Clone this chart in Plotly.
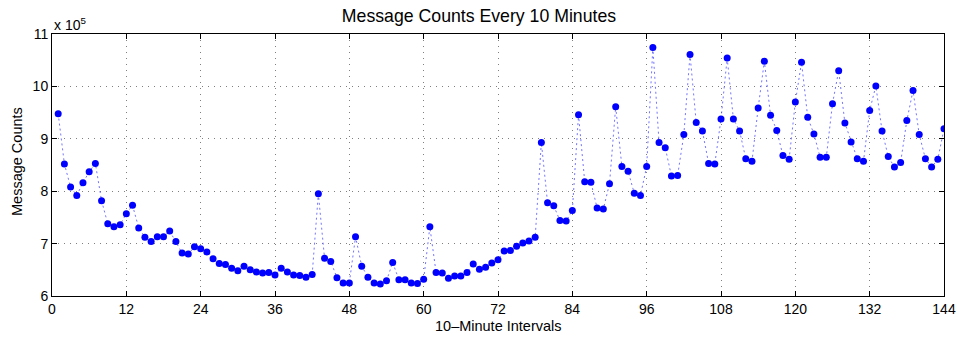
import plotly.graph_objects as go

intervals = list(range(1, 145))
counts_e5 = [
    9.48, 8.52, 8.08, 7.92, 8.16, 8.37, 8.53, 7.82, 7.38, 7.32,
    7.36, 7.57, 7.73, 7.30, 7.12, 7.04, 7.13, 7.13, 7.24, 7.04,
    6.82, 6.80, 6.94, 6.90, 6.84, 6.71, 6.62, 6.60, 6.53, 6.48,
    6.57, 6.50, 6.46, 6.44, 6.45, 6.40, 6.53, 6.46, 6.40, 6.39,
    6.36, 6.41, 7.95, 6.72, 6.66, 6.35, 6.25, 6.25, 7.13, 6.57,
    6.36, 6.25, 6.23, 6.29, 6.64, 6.31, 6.31, 6.25, 6.24, 6.32,
    7.32, 6.45, 6.44, 6.34, 6.38, 6.38, 6.45, 6.61, 6.51, 6.55,
    6.63, 6.69, 6.86, 6.87, 6.95, 7.01, 7.05, 7.12, 8.93, 7.78,
    7.72, 7.44, 7.43, 7.63, 9.46, 8.18, 8.17, 7.68, 7.66, 8.14,
    9.61, 8.47, 8.38, 7.96, 7.92, 8.47, 10.74, 8.93, 8.83, 8.29,
    8.30, 9.08, 10.61, 9.31, 9.15, 8.53, 8.52, 9.38, 10.54, 9.38,
    9.15, 8.62, 8.57, 9.59, 10.48, 9.45, 9.16, 8.68, 8.61, 9.70,
    10.46, 9.41, 9.09, 8.65, 8.65, 9.67, 10.30, 9.30, 8.94, 8.62,
    8.57, 9.54, 10.01, 9.15, 8.66, 8.46, 8.55, 9.35, 9.92, 9.08,
    8.62, 8.46, 8.61, 9.19,
]
counts = [round(v * 1e5) for v in counts_e5]

x_ticks = list(range(0, 145, 12))
y_tick_vals = [6e5, 7e5, 8e5, 9e5, 10e5, 11e5]
y_tick_text = ["6", "7", "8", "9", "10", "11"]

FONT = "Liberation Sans, Arial, Helvetica, sans-serif"

fig = go.Figure()
fig.add_trace(go.Scatter(
    x=intervals, y=counts, mode="lines+markers",
    line=dict(color="rgba(70,70,255,0.75)", width=1, dash="2px,3px"),
    marker=dict(color="#0000FF", size=7, line=dict(width=0)),
    showlegend=False,
))

axis_common = dict(
    showline=True, linecolor="black", linewidth=1, mirror="ticks",
    ticks="inside", ticklen=5, tickcolor="black", tickwidth=1,
    showgrid=True, gridcolor="rgba(0,0,0,0.5)", griddash="1px,5px", gridwidth=1,
    zeroline=False, automargin=False,
    tickfont=dict(size=14, color="black", family=FONT),
)

fig.update_layout(
    width=958, height=337,
    margin=dict(l=52, r=14, t=34, b=41),
    paper_bgcolor="white", plot_bgcolor="white",
    font=dict(family=FONT, color="black"),
    title=dict(text="Message Counts Every 10 Minutes", x=0.5, xanchor="center",
               y=0.952, yanchor="middle", font=dict(size=17.7, color="black", family=FONT)),
    xaxis=dict(range=[0, 144], tickvals=x_ticks, **axis_common),
    yaxis=dict(range=[6e5, 11e5], tickvals=y_tick_vals, ticktext=y_tick_text, **axis_common),
    annotations=[
        dict(text="x 10<sup>5</sup>", xref="paper", yref="paper",
             x=0, y=1, xanchor="left", yanchor="bottom", showarrow=False,
             yshift=-1, font=dict(size=14, color="black", family=FONT)),
        dict(text="10–Minute Intervals", xref="paper", yref="paper",
             x=0.5, y=0, xanchor="center", yanchor="middle", showarrow=False,
             yshift=-30, font=dict(size=14.5, color="black", family=FONT)),
        dict(text="Message Counts", xref="paper", yref="paper", textangle=-90,
             x=0, y=0.5, xanchor="center", yanchor="middle", showarrow=False,
             xshift=-35, yshift=3, font=dict(size=14.5, color="black", family=FONT)),
    ],
)

fig.write_html("out.html")
